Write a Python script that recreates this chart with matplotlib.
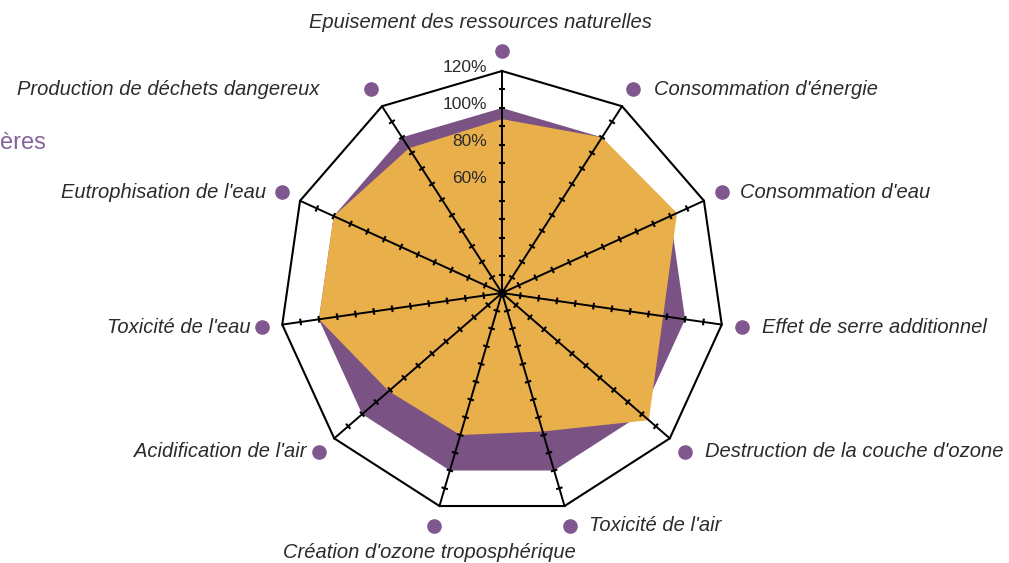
import numpy as np
import matplotlib
matplotlib.use("Agg")
import matplotlib.pyplot as plt
from matplotlib.collections import LineCollection

plt.rcParams["font.family"] = ["Liberation Sans", "DejaVu Sans"]

# ---- data ----
categories = [
    "Epuisement des ressources naturelles",
    "Consommation d'énergie",
    "Consommation d'eau",
    "Effet de serre additionnel",
    "Destruction de la couche d'ozone",
    "Toxicité de l'air",
    "Création d'ozone troposphérique",
    "Acidification de l'air",
    "Toxicité de l'eau",
    "Eutrophisation de l'eau",
    "Production de déchets dangereux",
]
reference = [100, 100, 100, 100, 100, 100, 100, 100, 100, 100, 100]
compared = [94, 100, 104, 88, 105, 78, 80, 81, 100, 100, 93]
grid_max = 120
tick_step = 10
pct_labels = ["120%", "100%", "80%", "60%"]
pct_values = [120, 100, 80, 60]

ORANGE = "#E9AF4B"
PURPLE = "#7A5384"
DOT = "#80578E"
TXT = "#2b2b2b"

n = len(categories)
ang = np.deg2rad(90 - np.arange(n) * 360.0 / n)
ux, uy = np.cos(ang), np.sin(ang)

fig = plt.figure(figsize=(10.09, 5.63), dpi=100)
ax = fig.add_axes([0, 0, 1, 1])
s = 1.85  # px per unit
ax.set_xlim(-502 / s, (1009 - 502) / s)
ax.set_ylim(-(563 - 293) / s, 293 / s)
ax.axis("off")


def poly(vals):
    v = np.asarray(vals, float)
    return np.r_[v * ux, v[0] * ux[0]], np.r_[v * uy, v[0] * uy[0]]


# filled series
px, py = poly(reference)
ax.fill(px, py, color=PURPLE, lw=0, zorder=1)
px, py = poly(compared)
ax.fill(px, py, color=ORANGE, lw=0, zorder=2)

# outer frame
ox, oy = poly([grid_max] * n)
ax.plot(ox, oy, color="black", lw=1.5, zorder=3, solid_joinstyle="miter")

# spokes with ticks
for i in range(n):
    ax.plot([0, grid_max * ux[i]], [0, grid_max * uy[i]], color="black", lw=1.4, zorder=3)
segs = []
half = 1.8
for i in range(n):
    nx, ny = -uy[i], ux[i]
    for r in np.arange(tick_step, grid_max, tick_step):
        cx, cy = r * ux[i], r * uy[i]
        segs.append([(cx - half * nx, cy - half * ny), (cx + half * nx, cy + half * ny)])
ax.add_collection(LineCollection(segs, colors="black", linewidths=1.5, zorder=3))
ax.plot(0, 0, "o", color="black", ms=5, zorder=4)

# percentage labels
for lab, v in zip(pct_labels, pct_values):
    ax.text(-8, v + 2, lab, ha="right", va="center", fontsize=12.5, color=TXT, zorder=5)

# category dots and labels
dot_r = 131
# (dx, dy in px, ha, va)
layout = [
    (-22, 28, "center", "center"),
    (21, 0, "left", "center"),
    (18, 0, "left", "center"),
    (20, 0, "left", "center"),
    (20, 0, "left", "center"),
    (19, 0, "left", "center"),
    (-4, -27, "center", "center"),
    (-12, 0, "right", "center"),
    (-11, 0, "right", "center"),
    (-15, 0, "right", "center"),
    (-51, 0, "right", "center"),
]
for i, (lab, (dx, dy, ha, va)) in enumerate(zip(categories, layout)):
    x, y = dot_r * ux[i], dot_r * uy[i]
    ax.plot(x, y, "o", color=DOT, ms=9.5, zorder=5)
    ax.annotate(lab, (x, y), xytext=(dx * 0.72, dy * 0.72), textcoords="offset points",
                ha=ha, va=va, fontsize=14.5, fontstyle="italic", color=TXT)

# cropped legend fragment
fig.text(0.0, 1 - 143 / 563, "ères", ha="left", va="center", fontsize=17, color="#86639A")

fig.savefig("out.png", dpi=100)
